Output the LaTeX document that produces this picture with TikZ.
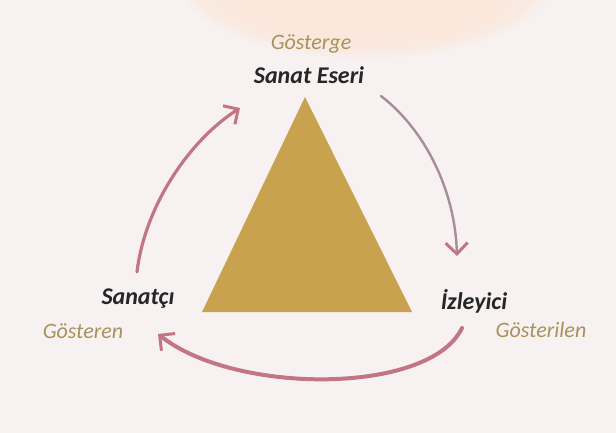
\documentclass[tikz,border=0pt]{standalone}
\usepackage{fontspec}
\setmainfont{Carlito}
\usetikzlibrary{arrows.meta}
\definecolor{bgc}{HTML}{F7F2F1}
\definecolor{peach}{HTML}{FCE6D9}
\definecolor{ochre}{HTML}{C9A24F}
\definecolor{goldtxt}{HTML}{A8925A}
\definecolor{rose}{HTML}{C27684}
\definecolor{mauve}{HTML}{A68D99}

\begin{document}
\begin{tikzpicture}[
    x=1pt, y=-1pt,
    font=\itshape,
    term/.style={font=\fontsize{24}{28}\selectfont\itshape\bfseries, text=black!85, inner sep=1pt},
    role/.style={font=\fontsize{22}{26}\selectfont\itshape, text=goldtxt, inner sep=1pt},
    flow/.style={rose, line width=2.6pt, line cap=round,
                 -{Straight Barb[length=11pt, width=22pt, line width=3pt]}},
]

% ---- background ----
\useasboundingbox (0,0) rectangle (616,433);
\fill[bgc] (0,0) rectangle (616,433);
\begin{scope}
    \clip (0,0) rectangle (616,433);
    \foreach \r/\o in {192/0.25, 182/0.3, 172/0.4, 160/0.5} {
        \fill[peach, opacity=\o] (366,-26) ellipse [x radius=\r, y radius=0.44*\r];
    }
\end{scope}

% ---- triangle ----
\coordinate (apex) at (305,97);
\coordinate (bl) at (202,312);
\coordinate (br) at (412,312);
\fill[ochre] (apex) -- (bl) -- (br) -- cycle;

% ---- labels ----
\node[role] (gosterge) at (311,44) {Gösterge};
\node[term] (eser) at (309,75) {Sanat Eseri};
\node[term] (sanatci) at (138,299) {Sanatçı};
\node[role] (gosteren) at (83,331) {Gösteren};
\node[term] (izleyici) at (474,301) {İzleyici};
\node[role] (gosterilen) at (541,330) {Gösterilen};

% ---- arrow ends ----
\coordinate (s1) at (137,272);
\coordinate (e1) at (240,108);
\coordinate (s2) at (381,96);
\coordinate (e2) at (457,256);
\coordinate (s3) at (462,328);
\coordinate (e3) at (158,334);

% ---- cycle ----
\draw[flow, line width=3.2pt] (s1) .. controls (145,205) and (190,140) .. (e1);
\draw[flow, mauve, line width=2.4pt,
      -{Straight Barb[length=11pt, width=22pt, line width=3pt, color=rose]}]
    (s2) .. controls (425,130) and (455,190) .. (e2);
\draw[flow, line width=4pt] (s3) .. controls (430,395) and (235,395) .. (e3);
\end{tikzpicture}
\end{document}
